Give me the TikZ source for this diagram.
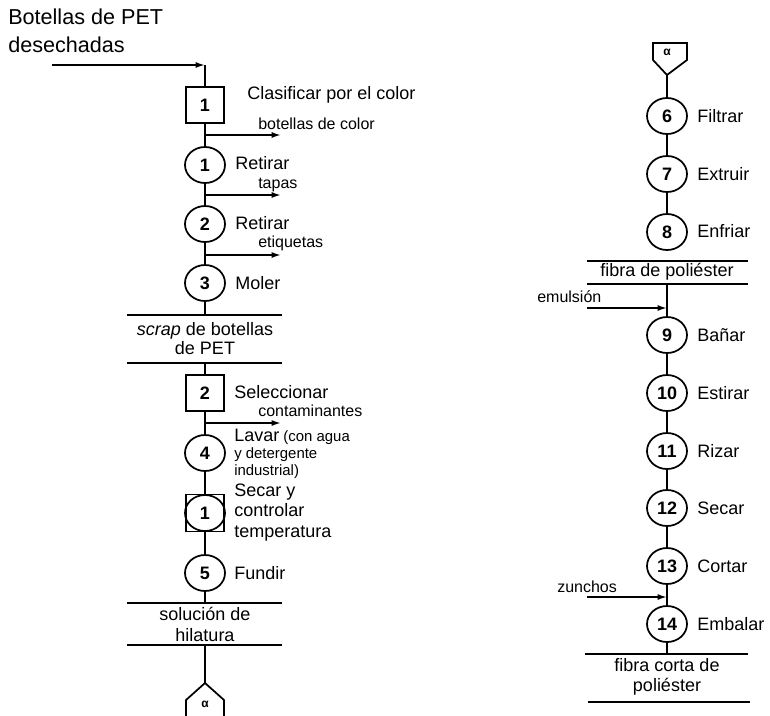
\documentclass[tikz,border=0pt]{standalone}
\usepackage{fontspec}
\setmainfont{Liberation Sans}
\usetikzlibrary{arrows.meta,shapes.geometric}
\begin{document}
\begin{tikzpicture}[x=0.75pt,y=-0.75pt,
  flow/.style={line width=1.3pt},
  arr/.style={line width=1.3pt,-{Latex[length=7pt,width=4.5pt]}},
  opc/.style={ellipse,draw,line width=1.3pt,minimum width=30pt,minimum height=27pt,inner sep=0pt,font=\fontsize{13.5}{15}\selectfont\bfseries},
  ins/.style={rectangle,draw,line width=1.3pt,minimum width=28.5pt,minimum height=27pt,inner sep=0pt,font=\fontsize{13.5}{15}\selectfont\bfseries},
  lbl/.style={anchor=west,inner sep=0pt,font=\fontsize{13.5}{15}\selectfont},
  sml/.style={anchor=west,inner sep=0pt,font=\fontsize{12}{13}\selectfont},
  stor/.style={align=center,inner sep=0pt,font=\fontsize{13.5}{14.5}\selectfont},
  storline/.style={line width=1.3pt},
  alph/.style={inner sep=0pt,font=\fontsize{9}{10}\selectfont\bfseries}
]
\useasboundingbox (0,0) rectangle (770,715);

% ---------------- left column ----------------
\node[anchor=west,inner sep=0pt,align=left,font=\fontsize{16.2}{21}\selectfont] (title) at (8,31) {Botellas de PET\\desechadas};
\coordinate (inS) at (52,65);
\coordinate (inA) at (205,65);

\node[ins] (sq1) at (205,105) {1};
\node[lbl] (l1) at (247,95) {Clasificar por el color};
\coordinate (b1) at (205,135); \coordinate (b1e) at (281,135);
\node[sml] (t1) at (258,124) {botellas de color};

\node[opc] (c1) at (205,165) {1};
\node[lbl] (l2) at (235,163) {Retirar};
\coordinate (b2) at (205,195); \coordinate (b2e) at (281,195);
\node[sml] (t2) at (258,185) {tapas};

\node[opc] (c2) at (205,224) {2};
\node[lbl] (l3) at (235,223) {Retirar};
\coordinate (b3) at (205,255); \coordinate (b3e) at (281,255);
\node[sml] (t3) at (258,243) {etiquetas};

\node[opc] (c3) at (205,283) {3};
\node[lbl] (l4) at (235,283) {Moler};

\coordinate (s1t) at (205,315);
\coordinate (s1b) at (205,363);
\draw[storline] (127,315) -- (282,315);
\draw[storline] (127,363) -- (282,363);
\node[stor] (st1) at (205,338.5) {\textit{scrap} de botellas\\de PET};

\node[ins] (sq2) at (205,393) {2};
\node[lbl] (l5) at (234,392) {Seleccionar};
\coordinate (b4) at (205,423); \coordinate (b4e) at (281,423);
\node[sml] (t4) at (258,411) {contaminantes};

\node[opc] (c4) at (205,453) {4};
\node[anchor=west,inner sep=0pt,align=left,font=\fontsize{11.2}{12.75}\selectfont] (l6) at (234,454)
  {{\fontsize{13.5}{12.75}\selectfont Lavar} (con agua\\y detergente\\industrial)};

\node[ins,minimum height=27.75pt] (sq3) at (205,513) {};
\node[opc] (c5) at (205,513) {1};
\node[anchor=west,inner sep=0pt,align=left,font=\fontsize{13.5}{15.4}\selectfont] (l7) at (234,512.5) {Secar y\\controlar\\temperatura};

\node[opc] (c6) at (205,573) {5};
\node[lbl] (l8) at (234,573) {Fundir};

\coordinate (s2t) at (205,603);
\coordinate (s2b) at (205,645);
\draw[storline] (127,603) -- (282,603);
\draw[storline] (127,645) -- (282,645);
\node[stor,font=\fontsize{13.5}{15.75}\selectfont] (st2) at (205,624.5) {solución de\\hilatura};

\coordinate (aLtop) at (205,683);
\draw[flow] (186,716) -- (186,700) -- (aLtop) -- (224,700) -- (224,716);
\node[alph] (aL) at (205,704) {α};

% connectors left
\draw[arr] (inS) -- (inA);
\draw[flow] (inA) -- (sq1.north);
\draw[flow] (sq1) -- (c1);
\draw[flow] (c1) -- (c2);
\draw[flow] (c2) -- (c3);
\draw[flow] (c3) -- (s1t);
\draw[arr] (b1) -- (b1e);
\draw[arr] (b2) -- (b2e);
\draw[arr] (b3) -- (b3e);
\draw[flow] (s1b) -- (sq2);
\draw[flow] (sq2) -- (c4);
\draw[arr] (b4) -- (b4e);
\draw[flow] (c4) -- (sq3);
\draw[flow] (sq3) -- (c6);
\draw[flow] (c6) -- (s2t);
\draw[flow] (s2b) -- (aLtop);

% ---------------- right column ----------------
\coordinate (aRbot) at (667,75);
\draw[flow] (653,43) -- (687,43) -- (687,60) -- (aRbot) -- (653,60) -- cycle;
\node[alph] (aR) at (667,52) {α};

\node[opc] (r6) at (667,116) {6};
\node[lbl] (m6) at (697,116) {Filtrar};
\node[opc] (r7) at (667,174) {7};
\node[lbl] (m7) at (697,174) {Extruir};
\node[opc] (r8) at (667,232) {8};
\node[lbl] (m8) at (697,231) {Enfriar};

\coordinate (s3t) at (667,261);
\coordinate (s3b) at (667,284);
\draw[storline] (587,261) -- (748,261);
\draw[storline] (587,284) -- (748,284);
\node[stor] (st3) at (667,272) {fibra de poliéster};

\coordinate (e0) at (587,308); \coordinate (e1) at (667,308);
\node[sml] (em) at (537,297) {emulsión};

\node[opc] (r9) at (667,335) {9};
\node[lbl] (m9) at (697,335) {Bañar};
\node[opc] (r10) at (667,393) {10};
\node[lbl] (m10) at (697,393) {Estirar};
\node[opc] (r11) at (667,451) {11};
\node[lbl] (m11) at (697,451) {Rizar};
\node[opc] (r12) at (667,508) {12};
\node[lbl] (m12) at (697,508) {Secar};
\node[opc] (r13) at (667,566) {13};
\node[lbl] (m13) at (697,566) {Cortar};

\coordinate (z0) at (587,597); \coordinate (z1) at (667,597);
\node[sml] (zu) at (557,587) {zunchos};

\node[opc] (r14) at (667,624) {14};
\node[lbl] (m14) at (697,624) {Embalar};

\coordinate (s4t) at (667,654);
\draw[storline] (585,654) -- (748,654);
\draw[storline] (588,702) -- (750,702);
\node[stor,font=\fontsize{13.5}{15}\selectfont] (st4) at (667,677) {fibra corta de\\poliéster};

% connectors right
\draw[flow] (aRbot) -- (r6);
\draw[flow] (r6) -- (r7);
\draw[flow] (r7) -- (r8);
\draw[flow] (s3b) -- (r9);
\draw[arr] (e0) -- (e1);
\draw[flow] (r9) -- (r10);
\draw[flow] (r10) -- (r11);
\draw[flow] (r11) -- (r12);
\draw[flow] (r12) -- (r13);
\draw[flow] (r13) -- (r14);
\draw[arr] (z0) -- (z1);
\draw[flow] (r14) -- (s4t);
\end{tikzpicture}
\end{document}
